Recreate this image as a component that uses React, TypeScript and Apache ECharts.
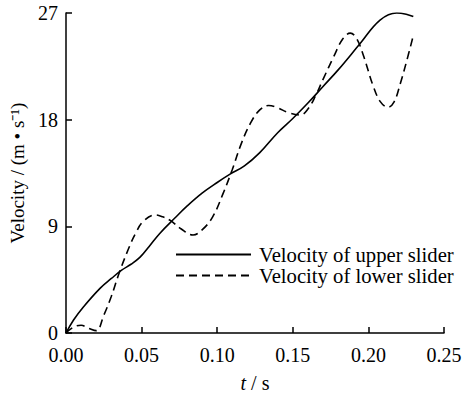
import React, { useEffect, useRef } from "react";
import * as echarts from "echarts";

const upperT = [0, 0.005, 0.0115, 0.0225, 0.03, 0.0368, 0.043, 0.049, 0.055, 0.062, 0.072, 0.08, 0.09, 0.1, 0.1085, 0.118, 0.128, 0.14, 0.15, 0.16, 0.17, 0.18, 0.1944, 0.2077, 0.2187, 0.225, 0.2297];
const upperV = [0, 1.1, 2.2, 3.77, 4.6, 5.3, 5.8, 6.4, 7.3, 8.4, 9.7, 10.7, 11.8, 12.7, 13.4, 14.1, 15.2, 16.9, 18.1, 19.4, 20.8, 22.2, 24.4, 26.4, 27.0, 26.9, 26.7];

const lowerT = [0, 0.005, 0.01, 0.015, 0.02, 0.025, 0.03, 0.035, 0.041, 0.046, 0.051, 0.059, 0.064, 0.069, 0.076, 0.084, 0.09, 0.097, 0.104, 0.11, 0.116, 0.122, 0.128, 0.134, 0.14, 0.147, 0.155, 0.16, 0.165, 0.17, 0.177, 0.183, 0.188, 0.192, 0.197, 0.203, 0.208, 0.213, 0.217, 0.221, 0.225, 0.2295];
const lowerV = [0, 0.5, 0.65, 0.4, 0.2, 1.5, 3.1, 5.0, 7.0, 8.4, 9.4, 9.96, 9.8, 9.5, 8.8, 8.27, 8.7, 9.8, 11.8, 13.8, 16.0, 17.7, 18.8, 19.2, 19.0, 18.6, 18.4, 18.9, 20.0, 21.4, 23.3, 24.8, 25.3, 24.9, 23.3, 20.9, 19.5, 19.05, 19.5, 21.0, 22.8, 25.0];

const seriesNames = ["Velocity of upper slider", "Velocity of lower slider"];
const yAxisName = "Velocity / (m • s⁻¹)";

const FONT = "Liberation Serif";

export default function App() {
  const ref = useRef<HTMLDivElement>(null);
  useEffect(() => {
    if (!ref.current) return;
    const chart = echarts.init(ref.current, undefined, { renderer: "svg" });
    const zip = (t: number[], v: number[]) => t.map((x, i) => [x, v[i]]);
    chart.setOption({
      animation: false,
      backgroundColor: "#fff",
      textStyle: { fontFamily: FONT, color: "#000" },
      grid: { left: 66, right: 18, top: 13, bottom: 63, containLabel: false, outerBoundsMode: "none" },
      legend: {
        orient: "vertical",
        left: 175,
        top: 244,
        padding: 0,
        itemWidth: 75,
        itemHeight: 14,
        itemGap: 0,
        itemStyle: { opacity: 0 },
        textStyle: { fontFamily: FONT, fontSize: 20.7, color: "#000", padding: [0, 0, 0, 3] },
        data: seriesNames,
      },
      xAxis: {
        type: "value",
        min: 0,
        max: 0.25,
        interval: 0.05,
        name: "{i|t} / s",
        nameLocation: "middle",
        nameGap: 40,
        nameTextStyle: {
          fontFamily: FONT,
          fontSize: 20,
          color: "#000",
          rich: { i: { fontStyle: "italic", fontFamily: FONT, fontSize: 20, color: "#000" } },
        },
        axisLine: { lineStyle: { color: "#000", width: 1.5 } },
        axisTick: { inside: true, length: 6, lineStyle: { color: "#000", width: 1.5 } },
        axisLabel: { fontFamily: FONT, fontSize: 20, color: "#000", margin: 12, formatter: (v: number) => v.toFixed(2) },
        splitLine: { show: false },
      },
      yAxis: {
        type: "value",
        min: 0,
        max: 27,
        interval: 9,
        name: yAxisName,
        nameLocation: "middle",
        nameGap: 38,
        nameTextStyle: { fontFamily: FONT, fontSize: 19, color: "#000" },
        axisLine: { show: true, lineStyle: { color: "#000", width: 1.5 } },
        axisTick: { show: true, inside: true, length: 6, lineStyle: { color: "#000", width: 1.5 } },
        axisLabel: { fontFamily: FONT, fontSize: 20, color: "#000", margin: 8 },
        splitLine: { show: false },
      },
      series: [
        {
          name: seriesNames[0],
          type: "line",
          data: zip(upperT, upperV),
          smooth: 0.4,
          showSymbol: false,
          symbol: "none",
          lineStyle: { color: "#000", width: 1.6 },
          itemStyle: { color: "#000" },
        },
        {
          name: seriesNames[1],
          type: "line",
          data: zip(lowerT, lowerV),
          smooth: 0.4,
          showSymbol: false,
          symbol: "none",
          lineStyle: { color: "#000", width: 1.6, type: [8, 5] },
          itemStyle: { color: "#000" },
        },
      ],
    });
    return () => chart.dispose();
  }, []);
  return <div ref={ref} style={{ position: "absolute", left: 0, top: 0, width: 462, height: 396 }} />;
}
